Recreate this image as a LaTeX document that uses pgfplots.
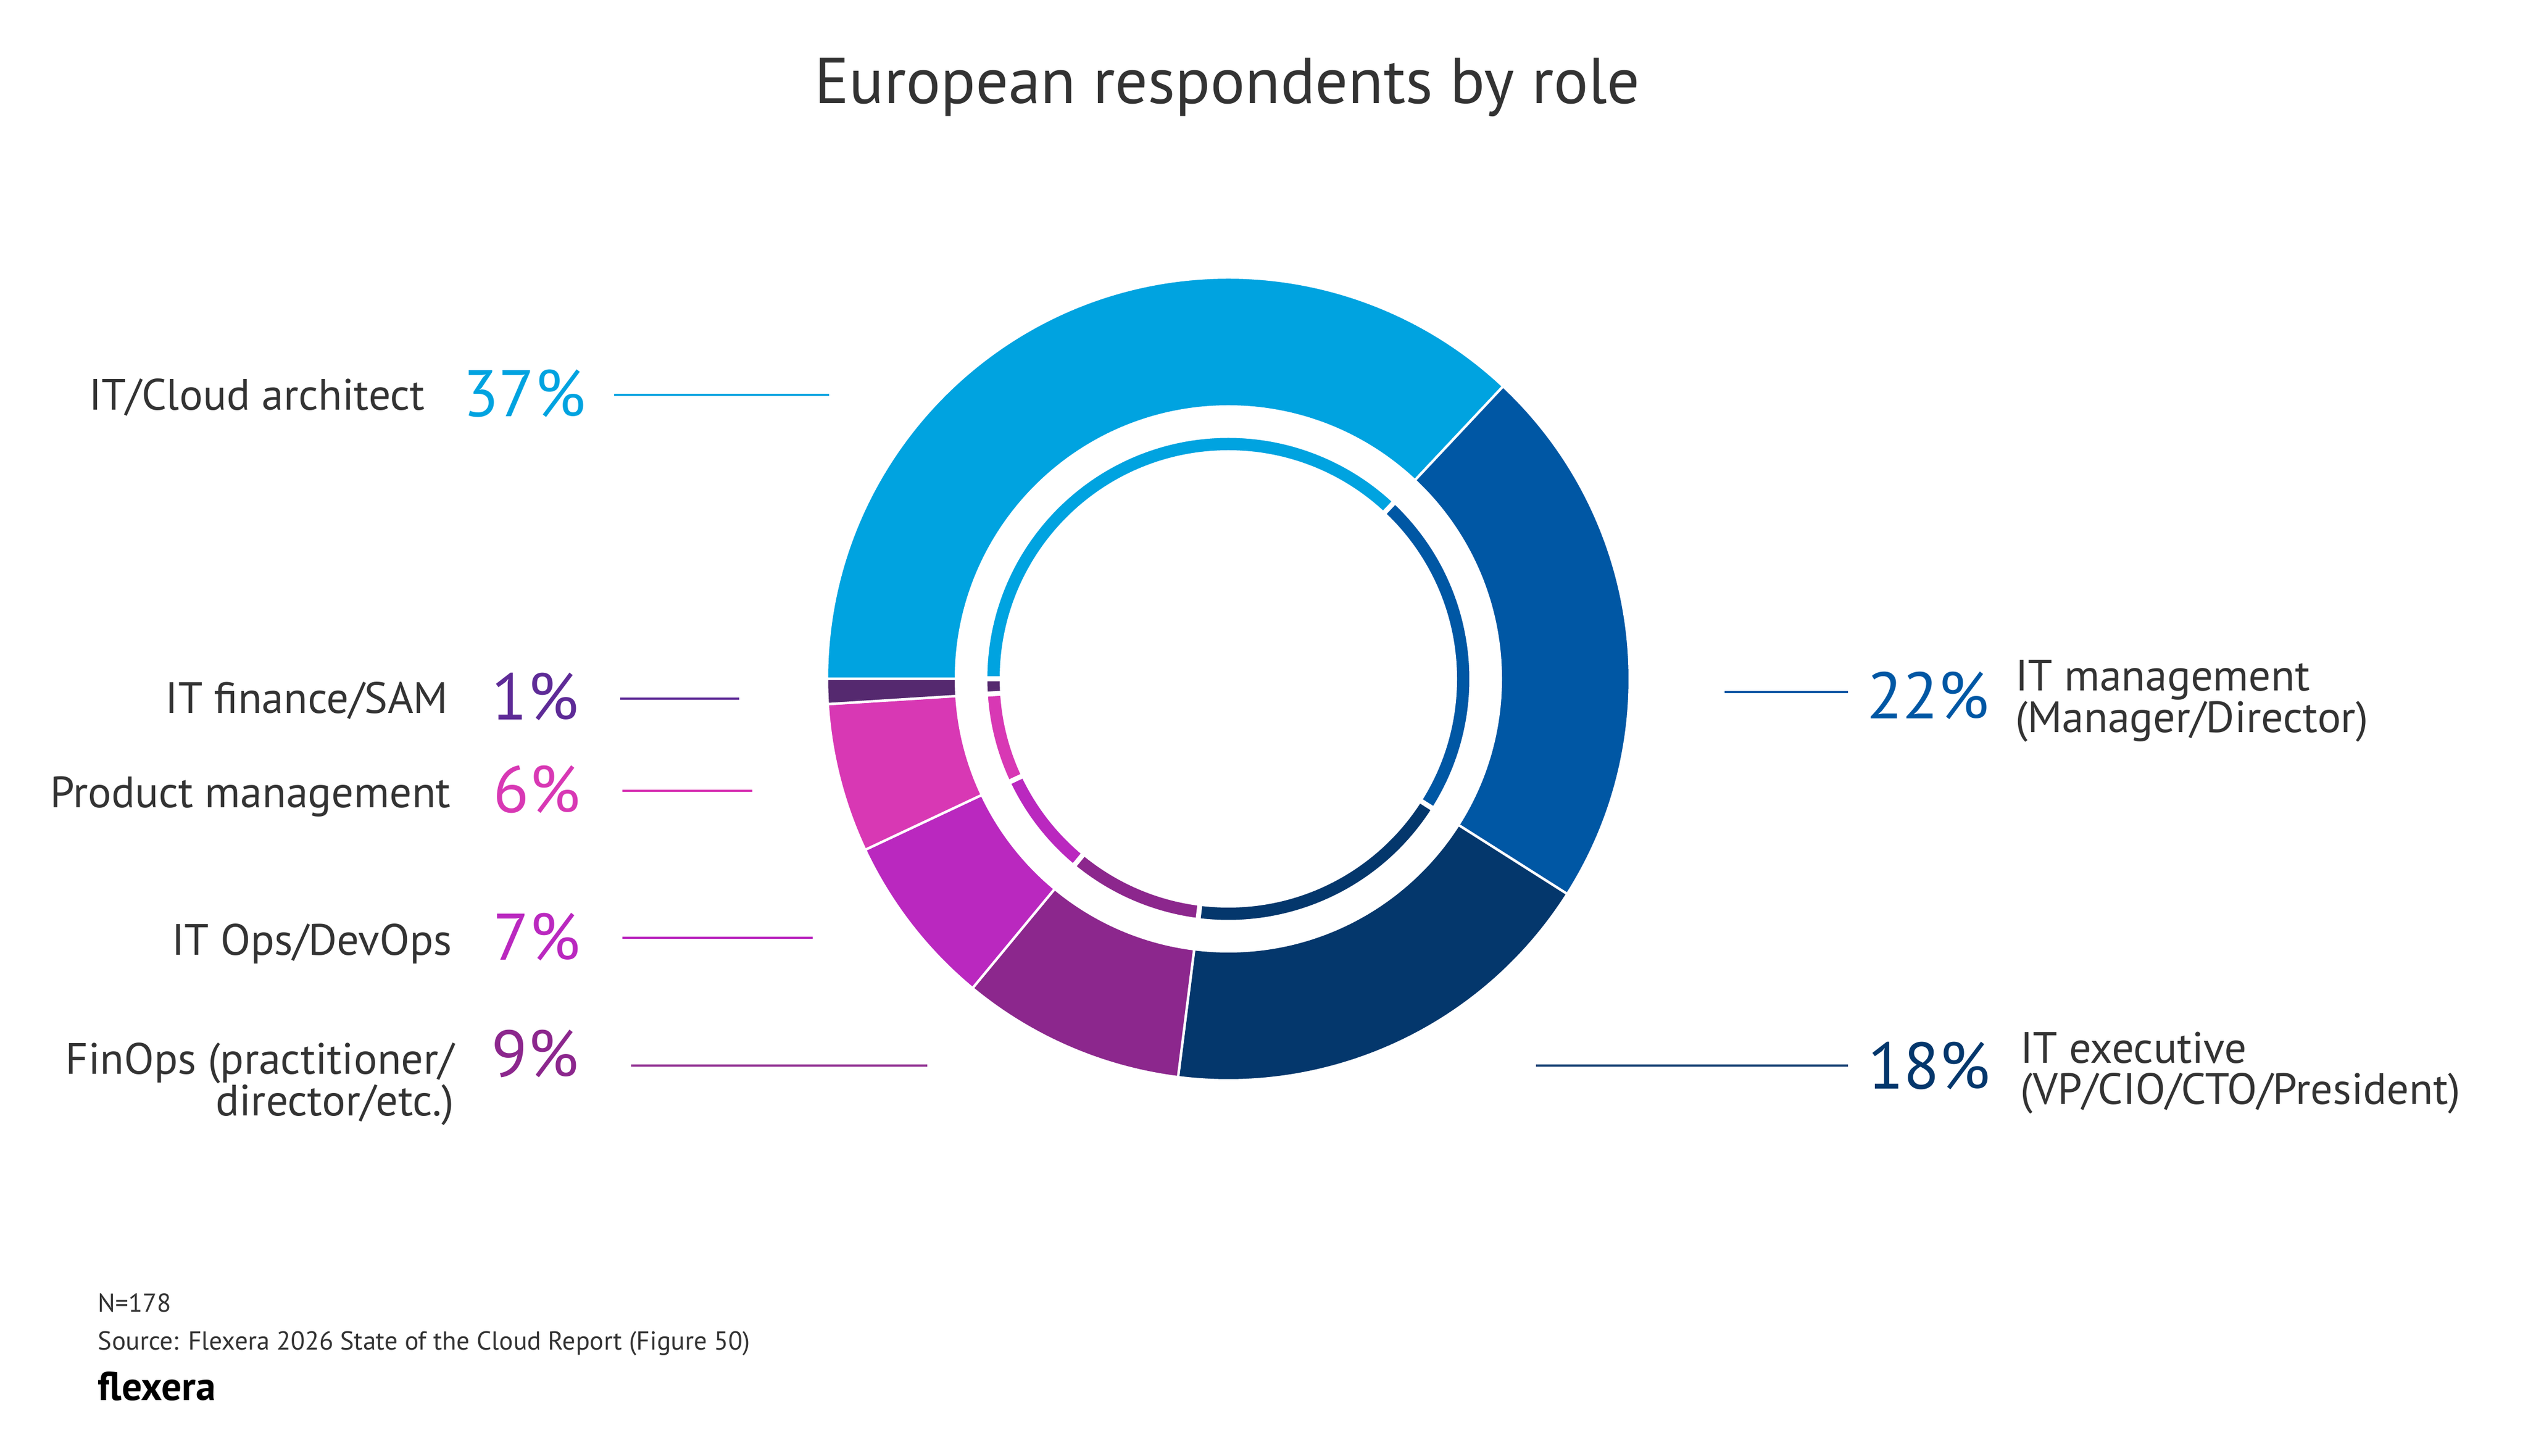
\documentclass[border=0pt]{standalone}
\usepackage{pgfplots}
\pgfplotsset{compat=1.18}
\usepackage{pgfplotstable}
\usepackage{fontspec}
\setmainfont{PT Sans}
\definecolor{txt}{HTML}{333333}
\definecolor{cArch}{HTML}{00A3E0}
\definecolor{cMgmt}{HTML}{0057A4}
\definecolor{cExec}{HTML}{04376C}
\definecolor{cFin}{HTML}{8C278D}
\definecolor{cOps}{HTML}{BA28BF}
\definecolor{cProd}{HTML}{D838B4}
\definecolor{cSam}{HTML}{55296F}
\definecolor{cSamT}{HTML}{5E2B97}
\begin{document}
\pgfplotstableread{
pct
37
22
18
9
7
6
1
}\roles
\begin{tikzpicture}
\xdef\cum{180}
\foreach \i in {0,...,6}{
  \pgfplotstablegetelem{\i}{pct}\of\roles
  \pgfmathsetmacro\e{\cum-3.6*\pgfplotsretval}
  \expandafter\xdef\csname segS\i\endcsname{\cum}
  \expandafter\xdef\csname segE\i\endcsname{\e}
  \xdef\cum{\e}
}
\begin{axis}[
  x=0.1pt, y=0.1pt,
  xmin=0, xmax=4610, ymin=0, ymax=2654,
  hide axis, clip=false,
]
\path (axis cs:0,0) rectangle (axis cs:4610,2654);
% outer ring
\foreach \i/\c in {0/cArch,1/cMgmt,2/cExec,3/cFin,4/cOps,5/cProd,6/cSam}{
  \edef\temp{\noexpand\fill[fill=\c,draw=white,line width=0.45pt] (axis cs:2240,1416) -- ++(\csname segS\i\endcsname:73.2pt) arc[start angle=\csname segS\i\endcsname,end angle=\csname segE\i\endcsname,radius=73.2pt] -- cycle;}
  \temp
}
\fill[white] (axis cs:2240,1416) circle[radius=49.9pt];
% inner thin ring
\foreach \i/\c in {0/cArch,1/cMgmt,2/cExec,3/cFin,4/cOps,5/cProd,6/cSam}{
  \edef\temp{\noexpand\fill[fill=\c,draw=white,line width=0.9pt] (axis cs:2240,1416) -- ++(\csname segS\i\endcsname:44.4pt) arc[start angle=\csname segS\i\endcsname,end angle=\csname segE\i\endcsname,radius=44.4pt] -- cycle;}
  \temp
}
\fill[white] (axis cs:2240,1416) circle[radius=41.7pt];

% title
\node[anchor=base, inner sep=0pt, font=\fontsize{11.8}{13}\selectfont, text=txt] at (axis cs:2238,2465) {European respondents by role};

% leader lines
\draw[cArch, line width=0.38pt] (axis cs:1120,1934) -- (axis cs:1512,1934);
\draw[cSamT, line width=0.38pt] (axis cs:1131,1380) -- (axis cs:1348,1380);
\draw[cProd, line width=0.38pt] (axis cs:1135,1212) -- (axis cs:1372,1212);
\draw[cOps, line width=0.38pt] (axis cs:1135,944) -- (axis cs:1482,944);
\draw[cFin, line width=0.38pt] (axis cs:1151,711) -- (axis cs:1691,711);
\draw[cMgmt, line width=0.38pt] (axis cs:3145,1392) -- (axis cs:3370,1392);
\draw[cExec, line width=0.38pt] (axis cs:2801,711) -- (axis cs:3370,711);

% percentages
\tikzset{pct/.style={inner sep=0pt, font=\fontsize{12}{14}\selectfont}, lab/.style={inner sep=0pt, font=\fontsize{8}{9.6}\selectfont, text=txt}}
\node[pct, anchor=base east, text=cArch] at (axis cs:1070,1894) {37\%};
\node[pct, anchor=base east, text=cSamT] at (axis cs:1057,1341) {1\%};
\node[pct, anchor=base east, text=cProd] at (axis cs:1060,1172) {6\%};
\node[pct, anchor=base east, text=cOps] at (axis cs:1060,903) {7\%};
\node[pct, anchor=base east, text=cFin] at (axis cs:1057,690) {9\%};
\node[pct, anchor=base west, text=cMgmt] at (axis cs:3402,1343) {22\%};
\node[pct, anchor=base west, text=cExec] at (axis cs:3404,668) {18\%};

% labels
\node[lab, anchor=base east] at (axis cs:777,1906) {IT/Cloud architect};
\node[lab, anchor=base east] at (axis cs:819,1353) {IT finance/SAM};
\node[lab, anchor=base east] at (axis cs:824,1181) {Product management};
\node[lab, anchor=base east] at (axis cs:826,912) {IT Ops/DevOps};
\node[lab, anchor=base east] at (axis cs:830,695) {FinOps (practitioner/};
\node[lab, anchor=base east] at (axis cs:830,619) {director/etc.)};
\node[lab, anchor=base west] at (axis cs:3673,1394) {IT management};
\node[lab, anchor=base west] at (axis cs:3673,1318) {(Manager/Director)};
\node[lab, anchor=base west] at (axis cs:3682,716) {IT executive};
\node[lab, anchor=base west] at (axis cs:3682,641) {(VP/CIO/CTO/President)};

% footer
\node[anchor=base west, inner sep=0pt, font=\fontsize{4.75}{6}\selectfont, text=txt] at (axis cs:177,261) {N=178};
\node[anchor=base west, inner sep=0pt, font=\fontsize{4.75}{6}\selectfont, text=txt] at (axis cs:177,192) {Source: Flexera 2026 State of the Cloud Report (Figure 50)};
\node[anchor=base west, inner sep=0pt, font=\bfseries\fontsize{7.3}{8}\selectfont, text=black] at (axis cs:177,101) {flexera};
\end{axis}
\end{tikzpicture}
\end{document}
